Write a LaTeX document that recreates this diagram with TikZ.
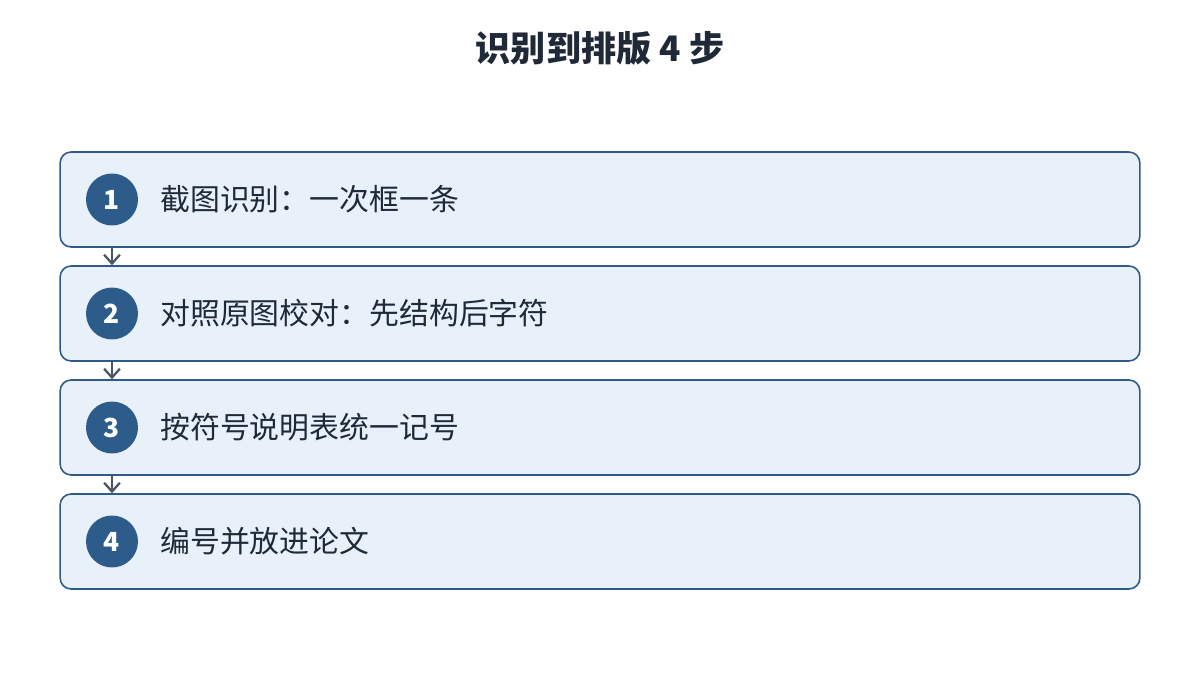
\documentclass[tikz,border=0pt]{standalone}
\usepackage{fontspec}
\setmainfont{Noto Sans CJK SC}
\usetikzlibrary{arrows.meta,positioning}
\definecolor{boxfill}{HTML}{E8F0FA}
\definecolor{boxline}{HTML}{2F5A87}
\definecolor{numfill}{HTML}{2E5C8A}
\definecolor{ink}{HTML}{1F2937}
\definecolor{arrowgray}{HTML}{4B5563}

\begin{document}
\begin{tikzpicture}[x=0.02cm, y=-0.02cm,
  stepbox/.style={draw=boxline, fill=boxfill, line width=0.9pt, rounded corners=0.22cm,
    minimum width=21.6cm, minimum height=1.9cm, inner sep=0pt},
  numdot/.style={circle, fill=numfill, text=white, minimum size=1.04cm, inner sep=0pt,
    font=\fontsize{15}{15}\selectfont\bfseries},
  steplbl/.style={anchor=west, text=ink, inner sep=0pt, font=\fontsize{17}{17}\selectfont},
  link/.style={-{Straight Barb[length=5pt,width=9pt]}, draw=arrowgray, line width=1.3pt}]
\useasboundingbox (0,0) rectangle (1200,675);
\node[text=ink, font=\fontsize{20}{20}\selectfont\bfseries] (title) at (600,48) {识别到排版\ 4\ 步};
\foreach \i/\y/\txt in {1/199.5/截图识别：一次框一条, 2/313.5/对照原图校对：先结构后字符,
    3/427.5/按符号说明表统一记号, 4/541.5/编号并放进论文}{
\node[stepbox] (box\i) at (600,\y) {};
\node[numdot] (num\i) at (112,\y) {\i};
\node[steplbl] (lbl\i) at (160,\y) {\txt};
}
\foreach \i/\j in {1/2, 2/3, 3/4}{
\draw[link] (box\i.south -| num\i) -- (box\j.north -| num\j);
}
\end{tikzpicture}
\end{document}
